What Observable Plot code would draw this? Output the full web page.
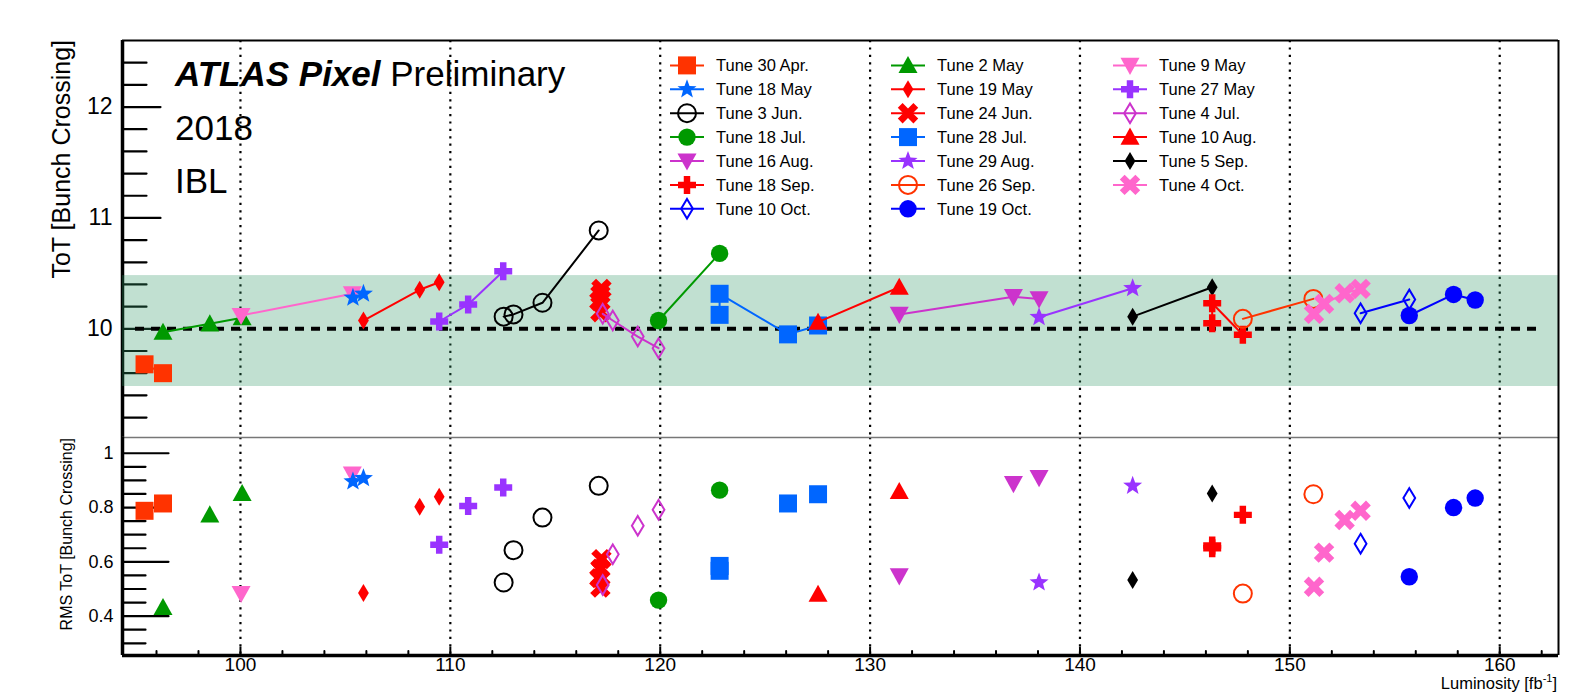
<!DOCTYPE html>
<html>
<head>
<meta charset="utf-8">
<script src="https://cdn.jsdelivr.net/npm/d3@7"></script>
<script src="https://cdn.jsdelivr.net/npm/@observablehq/plot@0.6"></script>
<style>
  html, body { margin: 0; padding: 0; background: #fff; }
  #wrap { position: relative; width: 1578px; height: 692px; overflow: hidden; font-family: "Liberation Sans", Arial, sans-serif; }
  #wrap svg { position: absolute; left: 0; }
</style>
</head>
<body>
<div id="wrap"></div>
<script>
// ---------------- data ----------------
const tuneNames = ["Tune 30 Apr.", "Tune 2 May", "Tune 9 May", "Tune 18 May", "Tune 19 May", "Tune 27 May",
  "Tune 3 Jun.", "Tune 24 Jun.", "Tune 4 Jul.", "Tune 18 Jul.", "Tune 28 Jul.", "Tune 10 Aug.",
  "Tune 16 Aug.", "Tune 29 Aug.", "Tune 5 Sep.", "Tune 18 Sep.", "Tune 26 Sep.", "Tune 4 Oct.",
  "Tune 10 Oct.", "Tune 19 Oct."];
const tuneColors = ["#ff3300", "#009900", "#ff66cc", "#0066ff", "#ff0000", "#9933ff",
  "#000000", "#ff0000", "#cc33cc", "#009900", "#0066ff", "#ff0000",
  "#cc33cc", "#9933ff", "#000000", "#ff0000", "#ff3300", "#ff66cc",
  "#0000ff", "#0000ff"];
const tuneMarkers = ["square", "triUp", "triDown", "star", "diamond", "plus",
  "openCircle", "times", "openDiamond", "circle", "square", "triUp",
  "triDown", "star", "diamond", "plus", "openCircle", "times",
  "openDiamond", "circle"];
const tuneLumi = [
  [95.43, 96.31],
  [96.31, 98.54, 100.08],
  [100.03, 105.33],
  [105.36, 105.86],
  [105.86, 108.54, 109.47],
  [109.47, 110.85, 112.52],
  [112.54, 113.01, 114.39, 117.07],
  [117.15, 117.1, 117.15, 117.2],
  [117.26, 117.74, 118.93, 119.92],
  [119.92, 122.83],
  [122.83, 122.83, 126.09, 127.52],
  [127.52, 131.39],
  [131.39, 136.83, 138.05],
  [138.05, 142.51],
  [142.51, 146.3],
  [146.3, 146.3, 147.76],
  [147.76, 151.12],
  [151.15, 151.63, 152.61, 153.37],
  [153.37, 155.69],
  [155.69, 157.8, 158.83]
];
const tuneToT = [
  [9.68, 9.60],
  [9.97, 10.045, 10.10],
  [10.12, 10.316],
  [10.28, 10.316],
  [10.075, 10.352, 10.42],
  [10.066, 10.22, 10.52],
  [10.11, 10.13, 10.235, 10.887],
  [10.15, 10.25, 10.31, 10.36],
  [10.135, 10.075, 9.93, 9.825],
  [10.075, 10.68],
  [10.126, 10.316, 9.95, 10.03],
  [10.06, 10.375],
  [10.13, 10.29, 10.27],
  [10.105, 10.366],
  [10.11, 10.375],
  [10.05, 10.23, 9.946],
  [10.09, 10.27],
  [10.135, 10.225, 10.32, 10.36],
  [10.14, 10.265],
  [10.12, 10.31, 10.26]
];
const tuneRMS = [
  [0.788, 0.815],
  [0.432, 0.773, 0.852],
  [0.483, 0.923],
  [0.896, 0.908],
  [0.485, 0.803, 0.84],
  [0.663, 0.806, 0.874],
  [0.524, 0.643, 0.763, 0.88],
  [0.505, 0.54, 0.575, 0.61],
  [0.515, 0.628, 0.733, 0.792],
  [0.459, 0.864],
  [0.567, 0.585, 0.815, 0.849],
  [0.481, 0.859],
  [0.548, 0.888, 0.91],
  [0.524, 0.88],
  [0.533, 0.852],
  [0.65, 0.66, 0.773],
  [0.483, 0.849],
  [0.508, 0.634, 0.754, 0.788],
  [0.667, 0.835],
  [0.545, 0.8, 0.835]
];
const xDomain = [94.38, 162.8];
const totDomain = [9.02, 12.6];
const rmsDomain = [0.255, 1.058];
const xMajor = [100, 110, 120, 130, 140, 150, 160];
const xMinor = [96, 98, 102, 104, 106, 108, 112, 114, 116, 118, 122, 124, 126, 128, 132, 134, 136, 138, 142, 144, 146, 148, 152, 154, 156, 158, 162];
const totMajor = [10, 11, 12];
const totMinor = [9.2, 9.4, 9.6, 9.8, 10.2, 10.4, 10.6, 10.8, 11.2, 11.4, 11.6, 11.8, 12.2, 12.4];
const rmsMajor = [0.4, 0.6, 0.8, 1];
const rmsMajorLabels = ["0.4", "0.6", "0.8", "1"];
const rmsMinor = [0.3, 0.35, 0.45, 0.5, 0.55, 0.65, 0.7, 0.75, 0.85, 0.9, 0.95];
const bandRange = [9.48, 10.48];
const refLevel = 10;
const refRange = [95, 162];

// ---------------- symbols ----------------
const FONT = "Liberation Sans, Arial, sans-serif";
function sym(fn) { return { draw(c, size) { fn(c, Math.sqrt(size / Math.PI)); } }; }
function poly(c, pts) { pts.forEach((p, k) => k ? c.lineTo(p[0], p[1]) : c.moveTo(p[0], p[1])); c.closePath(); }
function plusPts(r, t) {
  return [[-t,-r],[t,-r],[t,-t],[r,-t],[r,t],[t,t],[t,r],[-t,r],[-t,t],[-r,t],[-r,-t],[-t,-t]];
}
const SYM = {
  square: sym((c, r) => c.rect(-r, -r, 2 * r, 2 * r)),
  circle: sym((c, r) => { c.moveTo(r, 0); c.arc(0, 0, r, 0, 2 * Math.PI); }),
  triUp: sym((c, r) => poly(c, [[0, -r], [r, 0.8 * r], [-r, 0.8 * r]])),
  triDown: sym((c, r) => poly(c, [[0, r], [r, -0.8 * r], [-r, -0.8 * r]])),
  diamond: sym((c, r) => poly(c, [[0, -r], [0.6 * r, 0], [0, r], [-0.6 * r, 0]])),
  plus: sym((c, r) => poly(c, plusPts(r, 0.36 * r))),
  times: sym((c, r) => {
    const a = Math.PI / 4, L = 1.3 * r, t = 0.4 * r;
    poly(c, plusPts(L, t).map(([x, y]) => [x * Math.cos(a) - y * Math.sin(a), x * Math.sin(a) + y * Math.cos(a)]));
  }),
  star: sym((c, r) => {
    const pts = [];
    for (let k = 0; k < 10; k++) {
      const ang = -Math.PI / 2 + k * Math.PI / 5, rr = k % 2 ? 0.42 * r : r;
      pts.push([rr * Math.cos(ang), rr * Math.sin(ang)]);
    }
    poly(c, pts);
  })
};
SYM.openCircle = SYM.circle;
SYM.openDiamond = SYM.diamond;
const markerR = {square: 9, circle: 8.7, openCircle: 9, triUp: 9.5, triDown: 9.5, diamond: 9, openDiamond: 9.8, plus: 9, times: 8.5, star: 10};
const isOpen = m => m.startsWith("open");

const tickShape = { draw(c, l) { c.moveTo(0, 0); c.lineTo(0, -l); } };

// rows
const rows = tuneNames.flatMap((name, i) => tuneLumi[i].map((x, j) => ({tune: name, idx: i, lumi: x, tot: tuneToT[i][j], rms: tuneRMS[i][j]})));

function seriesMarks(yKey, withLines) {
  const marks = [];
  tuneNames.forEach((name, i) => {
    const data = rows.filter(d => d.idx === i);
    const col = tuneColors[i], m = tuneMarkers[i];
    if (withLines) marks.push(Plot.line(data, {x: "lumi", y: yKey, stroke: col, strokeWidth: 2}));
    marks.push(Plot.dot(data, {
      x: "lumi", y: yKey, r: markerR[m], symbol: SYM[m],
      fill: isOpen(m) ? "none" : col,
      stroke: isOpen(m) ? col : "none",
      strokeWidth: isOpen(m) ? 2 : 0
    }));
  });
  return marks;
}

const W = 1578, mL = 122, mR = 20;
const dotted = {stroke: "black", strokeWidth: 2.2, strokeDasharray: "2.2,5.2"};

// ---------------- top panel ----------------
const topPlot = Plot.plot({
  width: W, height: 437,
  marginLeft: mL, marginRight: mR, marginTop: 40, marginBottom: 0,
  style: {background: "transparent", overflow: "visible", fontFamily: FONT},
  x: {domain: xDomain, axis: null},
  y: {domain: totDomain, axis: null},
  marks: [
    Plot.ruleX(xMajor, dotted),
    Plot.vector(totMajor, {x: () => xDomain[0], y: d => d, length: 38, rotate: 90, anchor: "start", shape: tickShape, stroke: "black", strokeWidth: 2.2}),
    Plot.vector(totMinor, {x: () => xDomain[0], y: d => d, length: 24, rotate: 90, anchor: "start", shape: tickShape, stroke: "black", strokeWidth: 2.2}),
    Plot.ruleX([xDomain[0]], {stroke: "black", strokeWidth: 3.5}),
    Plot.rect([bandRange], {x1: () => xDomain[0], x2: () => xDomain[1], y1: d => d[0], y2: d => d[1], fill: "#339966", fillOpacity: 0.3}),
    Plot.ruleY([refLevel], {x1: () => refRange[0], x2: () => refRange[1], stroke: "black", strokeWidth: 4, strokeDasharray: "9,7"}),
    ...seriesMarks("tot", true),
    Plot.ruleY([totDomain[1]], {stroke: "black", strokeWidth: 2}),
    Plot.ruleX([xDomain[1]], {stroke: "black", strokeWidth: 2}),
    Plot.text(totMajor, {y: d => d, frameAnchor: "left", dx: -10, textAnchor: "end", text: d => String(d), fontSize: 23, fontFamily: FONT, fill: "black"})
  ]
});
topPlot.style.top = "0px";

// ---------------- bottom panel ----------------
const botPlot = Plot.plot({
  width: W, height: 255,
  marginLeft: mL, marginRight: mR, marginTop: 0, marginBottom: 37,
  style: {background: "transparent", overflow: "visible", fontFamily: FONT},
  x: {domain: xDomain, axis: null},
  y: {domain: rmsDomain, axis: null},
  marks: [
    Plot.ruleX(xMajor, dotted),
    Plot.vector(rmsMajor, {x: () => xDomain[0], y: d => d, length: 46, rotate: 90, anchor: "start", shape: tickShape, stroke: "black", strokeWidth: 2.2}),
    Plot.vector(rmsMinor, {x: () => xDomain[0], y: d => d, length: 23, rotate: 90, anchor: "start", shape: tickShape, stroke: "black", strokeWidth: 2.2}),
    Plot.vector(xMajor, {x: d => d, y: () => rmsDomain[0], length: 8, rotate: 0, anchor: "start", shape: tickShape, stroke: "black", strokeWidth: 2}),
    Plot.vector(xMinor, {x: d => d, y: () => rmsDomain[0], length: 4.5, rotate: 0, anchor: "start", shape: tickShape, stroke: "black", strokeWidth: 2}),
    ...seriesMarks("rms", false),
    Plot.ruleY([rmsDomain[1]], {stroke: "#777777", strokeWidth: 1.5}),
    Plot.ruleX([xDomain[0]], {stroke: "black", strokeWidth: 3.5}),
    Plot.ruleY([rmsDomain[0]], {stroke: "black", strokeWidth: 3.5}),
    Plot.ruleX([xDomain[1]], {stroke: "black", strokeWidth: 2}),
    Plot.text(rmsMajor, {y: d => d, frameAnchor: "left", dx: -9, textAnchor: "end", text: (d, i) => rmsMajorLabels[i], fontSize: 18, fontFamily: FONT, fill: "black"}),
    Plot.text(xMajor, {x: d => d, frameAnchor: "bottom", dy: 15, text: d => String(d), fontSize: 19, fontFamily: FONT, fill: "black"})
  ]
});
botPlot.style.top = "437px";

const wrap = document.getElementById("wrap");
wrap.appendChild(topPlot);
wrap.appendChild(botPlot);

// ---------------- overlay: titles, axis titles, legend ----------------
const ov = d3.select(wrap).append("svg")
  .attr("width", W).attr("height", 692)
  .style("top", "0px")
  .attr("font-family", FONT);

const t1 = ov.append("text").attr("x", 175).attr("y", 86).attr("font-size", 35).attr("fill", "black");
t1.append("tspan").attr("font-weight", "bold").attr("font-style", "italic").text("ATLAS Pixel");
t1.append("tspan").text(" Preliminary");
ov.append("text").attr("x", 175).attr("y", 140).attr("font-size", 35).text("2018");
ov.append("text").attr("x", 175).attr("y", 193).attr("font-size", 35).text("IBL");

ov.append("text").attr("transform", "translate(70,40) rotate(-90)").attr("text-anchor", "end")
  .attr("font-size", 25).text("ToT [Bunch Crossing]");
ov.append("text").attr("transform", "translate(72,438) rotate(-90)").attr("text-anchor", "end")
  .attr("font-size", 16).text("RMS ToT [Bunch Crossing]");

const lum = ov.append("text").attr("x", 1557).attr("y", 689).attr("text-anchor", "end").attr("font-size", 16.5);
lum.append("tspan").text("Luminosity [fb");
lum.append("tspan").attr("dy", -7).attr("font-size", 11).text("-1");
lum.append("tspan").attr("dy", 7).text("]");

// legend
const legColX = [687, 908, 1130];
const legRowY0 = 65.4, legRowDy = 23.9;
tuneNames.forEach((name, i) => {
  const r = Math.floor(i / 3), c = i % 3;
  const cx = legColX[c], cy = legRowY0 + r * legRowDy;
  const col = tuneColors[i], m = tuneMarkers[i];
  const g = ov.append("g");
  g.append("line").attr("x1", cx - 17).attr("x2", cx + 17).attr("y1", cy).attr("y2", cy)
    .attr("stroke", col).attr("stroke-width", 2);
  const rr = markerR[m];
  g.append("path").attr("transform", `translate(${cx},${cy})`)
    .attr("d", d3.symbol(SYM[m], rr * rr * Math.PI)())
    .attr("fill", isOpen(m) ? "none" : col)
    .attr("stroke", isOpen(m) ? col : "none")
    .attr("stroke-width", isOpen(m) ? 2 : 0);
  g.append("text").attr("x", cx + 29).attr("y", cy + 6).attr("font-size", 16.5).text(name);
});
</script>
</body>
</html>
